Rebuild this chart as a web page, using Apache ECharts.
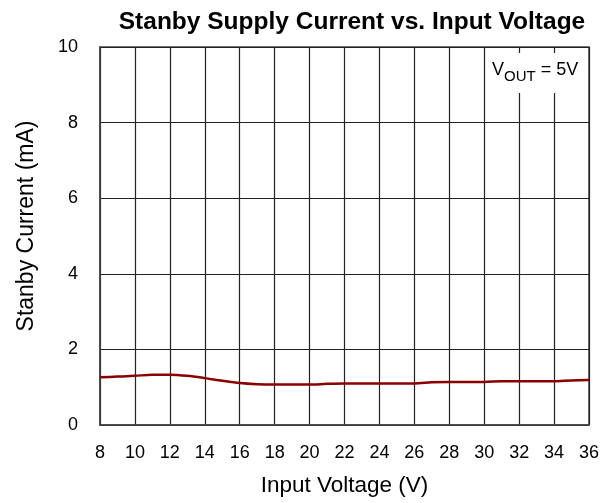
<!DOCTYPE html>
<html>
<head>
<meta charset="utf-8">
<script src="https://cdn.jsdelivr.net/npm/echarts@6/dist/echarts.min.js"></script>
<style>html,body{margin:0;padding:0;background:#fff;}#c{width:614px;height:503px;}</style>
</head>
<body>
<div id="c"></div>
<script>
const inputVoltage = [8,9,10,11,12,13,14,15,16,17,18,19,20,21,22,23,24,25,26,27,28,29,30,31,32,33,34,35,36];
const standbyCurrent = [1.26,1.28,1.30,1.33,1.33,1.30,1.24,1.17,1.11,1.08,1.07,1.07,1.07,1.09,1.10,1.10,1.10,1.10,1.10,1.13,1.14,1.14,1.14,1.16,1.16,1.16,1.16,1.18,1.19];
const xTicks = {min: 8, max: 36, interval: 2};
const yTicks = {min: 0, max: 10, interval: 2};
const titleText = 'Stanby Supply Current vs. Input Voltage';
const xName = 'Input Voltage (V)';
const yName = 'Stanby Current (mA)';

const font = 'Liberation Sans, Arial, sans-serif';
const chart = echarts.init(document.getElementById('c'), null, {renderer: 'canvas'});
const gridLine = {show: true, lineStyle: {color: '#222', width: 1.2}};
chart.setOption({
  animation: false,
  backgroundColor: '#fff',
  title: {
    text: titleText, left: 347, top: 5, textAlign: 'center',
    textStyle: {fontFamily: font, fontWeight: 'bold', fontSize: 24.5, color: '#000'}
  },
  grid: {left: 100, right: 25, top: 47, bottom: 78, show: true, borderColor: '#444', borderWidth: 1.5},
  xAxis: {
    type: 'value', min: xTicks.min, max: xTicks.max, interval: xTicks.interval,
    name: xName, nameLocation: 'middle', nameGap: 49,
    nameTextStyle: {fontFamily: font, fontSize: 22.5, color: '#000'},
    axisLine: {show: true, lineStyle: {color: '#444', width: 1.5}},
    axisTick: {show: false},
    axisLabel: {fontFamily: font, fontSize: 18, color: '#000', margin: 19},
    splitLine: gridLine
  },
  yAxis: {
    type: 'value', min: yTicks.min, max: yTicks.max, interval: yTicks.interval,
    name: yName, nameLocation: 'middle', nameGap: 62,
    nameTextStyle: {fontFamily: font, fontSize: 23, color: '#000', padding: [0, 0, 0, 20]},
    axisLine: {show: true, lineStyle: {color: '#444', width: 1.5}},
    axisTick: {show: false},
    axisLabel: {fontFamily: font, fontSize: 18, color: '#000', margin: 22},
    splitLine: gridLine
  },
  graphic: [
    {type: 'rect', left: 489, top: 53, shape: {width: 98, height: 40}, style: {fill: '#fff'}, z: 100},
    {type: 'text', left: 492, top: 61, z: 101,
     style: {
       text: '{v|V}{s|OUT}{v| = 5V}',
       rich: {
         v: {fontFamily: font, fontSize: 18, fill: '#000', verticalAlign: 'bottom', lineHeight: 22},
         s: {fontFamily: font, fontSize: 15, fill: '#000', verticalAlign: 'bottom', padding: [0,0,-5,0], lineHeight: 22}
       }
     }}
  ],
  series: [{
    type: 'line', data: inputVoltage.map((x, i) => [x, standbyCurrent[i]]),
    smooth: 0.3, showSymbol: false,
    lineStyle: {color: '#8b0000', width: 2.5}
  }]
});
</script>
</body>
</html>
